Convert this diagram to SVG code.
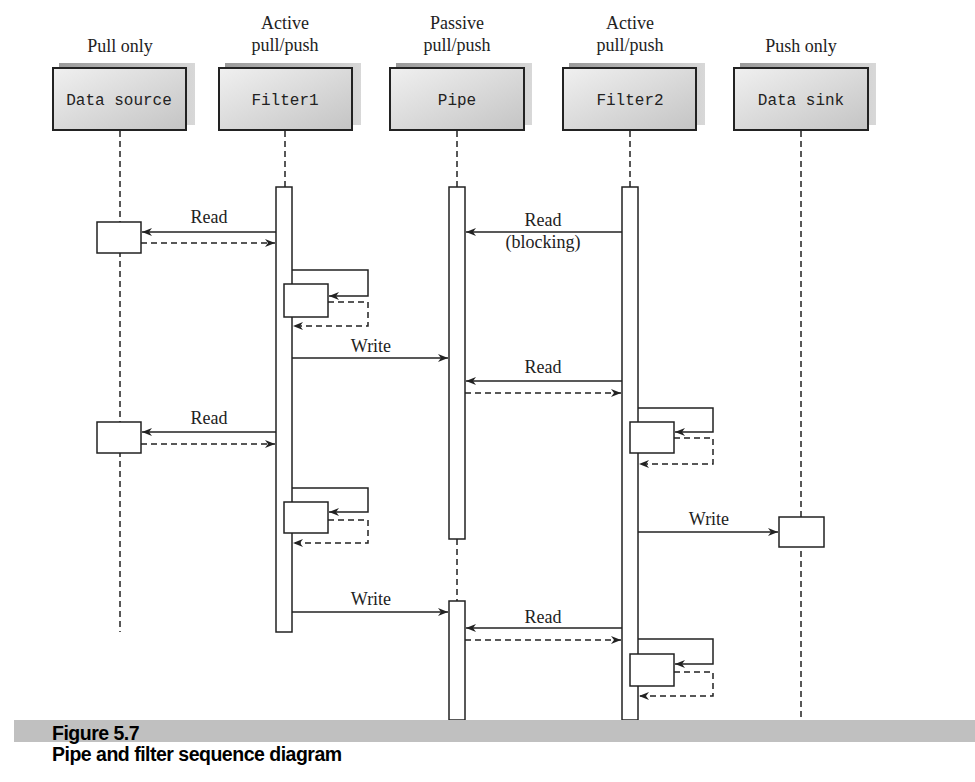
<svg xmlns="http://www.w3.org/2000/svg" width="975" height="782" viewBox="0 0 975 782">
<defs>
<linearGradient id="boxg" x1="0" y1="0" x2="1" y2="1">
<stop offset="0" stop-color="#f0f0f0"/>
<stop offset="1" stop-color="#c4c4c4"/>
</linearGradient>
<linearGradient id="shg" x1="0" y1="0" x2="1" y2="0">
<stop offset="0" stop-color="#9a9a9a"/>
<stop offset="1" stop-color="#d8d8d8"/>
</linearGradient>
<marker id="ah" viewBox="0 0 10 8" refX="10" refY="4" markerWidth="10" markerHeight="8" markerUnits="userSpaceOnUse" orient="auto">
<path d="M0,0 L10,4 L0,8 L3,4 z" fill="#222"/>
</marker>
<style>
.hdr{font-family:"Liberation Serif",serif;font-size:18px;fill:#222;text-anchor:middle}
.lbl{font-family:"Liberation Serif",serif;font-size:18px;fill:#222;text-anchor:middle}
.box{fill:url(#boxg);stroke:#222;stroke-width:2}
.sh{fill:url(#shg)}
.bt{font-family:"Liberation Mono",monospace;font-size:16px;fill:#222;text-anchor:middle}
.life{stroke:#222;stroke-width:1.5;stroke-dasharray:6,4;fill:none}
.act{fill:#fff;stroke:#222;stroke-width:1.5}
.msg{stroke:#222;stroke-width:1.5;fill:none;marker-end:url(#ah)}
.ret{stroke:#222;stroke-width:1.5;fill:none;stroke-dasharray:6,4;marker-end:url(#ah)}
.cap{font-family:"Liberation Sans",sans-serif;font-weight:bold;font-size:19.5px;fill:#000;letter-spacing:-0.5px}
</style>
</defs>
<rect width="975" height="782" fill="#fff"/>

<g id="lifelines">
<line class="life" x1="120" y1="131" x2="120" y2="632"/>
<line class="life" x1="285" y1="131" x2="285" y2="187"/>
<line class="life" x1="457" y1="131" x2="457" y2="187"/>
<line class="life" x1="457" y1="539" x2="457" y2="601"/>
<line class="life" x1="630" y1="131" x2="630" y2="187"/>
<line class="life" x1="801" y1="131" x2="801" y2="720"/>
</g>

<g id="data-source">
<text class="hdr" x="120" y="52">Pull only</text>
<rect class="sh" x="59" y="63" width="136" height="62"/>
<rect class="box" x="53" y="68" width="133" height="62"/>
<text class="bt" x="119" y="105">Data source</text>
<rect class="act" x="97" y="222" width="44" height="31"/>
<rect class="act" x="97" y="422" width="44" height="31"/>
</g>

<g id="filter1">
<text class="hdr" x="285" y="29">Active</text>
<text class="hdr" x="285" y="51">pull/push</text>
<rect class="sh" x="225" y="63" width="136" height="62"/>
<rect class="box" x="219" y="68" width="133" height="62"/>
<text class="bt" x="285" y="105">Filter1</text>
<rect class="act" x="276" y="187" width="16" height="445"/>
<rect class="act" x="284" y="284" width="44" height="33"/>
<rect class="act" x="284" y="502" width="44" height="31"/>
</g>

<g id="pipe">
<text class="hdr" x="457" y="29">Passive</text>
<text class="hdr" x="457" y="51">pull/push</text>
<rect class="sh" x="396" y="63" width="136" height="62"/>
<rect class="box" x="390" y="68" width="134" height="62"/>
<text class="bt" x="457" y="105">Pipe</text>
<rect class="act" x="449" y="187" width="16" height="352"/>
<rect class="act" x="449" y="601" width="16" height="119"/>
</g>

<g id="filter2">
<text class="hdr" x="630" y="29">Active</text>
<text class="hdr" x="630" y="51">pull/push</text>
<rect class="sh" x="569" y="63" width="136" height="62"/>
<rect class="box" x="563" y="68" width="133" height="62"/>
<text class="bt" x="630" y="105">Filter2</text>
<rect class="act" x="622" y="187" width="16" height="533"/>
<rect class="act" x="630" y="422" width="44" height="31"/>
<rect class="act" x="630" y="654" width="44" height="32"/>
</g>

<g id="data-sink">
<text class="hdr" x="801" y="52">Push only</text>
<rect class="sh" x="740" y="63" width="136" height="62"/>
<rect class="box" x="734" y="68" width="134" height="62"/>
<text class="bt" x="801" y="105">Data sink</text>
<rect class="act" x="779" y="517" width="45" height="30"/>
</g>

<g id="connectors">
<line class="msg" x1="276" y1="232" x2="142" y2="232"/>
<text class="lbl" x="209" y="223">Read</text>
<line class="ret" x1="141" y1="243" x2="275" y2="243"/>

<line class="msg" x1="622" y1="232" x2="466" y2="232"/>
<text class="lbl" x="543" y="226">Read</text>
<text class="lbl" x="543" y="248">(blocking)</text>

<polyline class="msg" points="292,270 368,270 368,296 329,296"/>
<polyline class="ret" points="328,302 368,302 368,326 293,326"/>

<line class="msg" x1="292" y1="358" x2="448" y2="358"/>
<text class="lbl" x="371" y="352">Write</text>

<line class="msg" x1="622" y1="381" x2="466" y2="381"/>
<text class="lbl" x="543" y="373">Read</text>
<line class="ret" x1="465" y1="393" x2="621" y2="393"/>

<line class="msg" x1="276" y1="432" x2="142" y2="432"/>
<text class="lbl" x="209" y="424">Read</text>
<line class="ret" x1="141" y1="444" x2="275" y2="444"/>

<polyline class="msg" points="638,408 713,408 713,432 675,432"/>
<polyline class="ret" points="674,438 713,438 713,464 639,464"/>

<polyline class="msg" points="292,488 368,488 368,512 329,512"/>
<polyline class="ret" points="328,520 368,520 368,543 293,543"/>

<line class="msg" x1="638" y1="532" x2="778" y2="532"/>
<text class="lbl" x="709" y="525">Write</text>

<line class="msg" x1="292" y1="612" x2="448" y2="612"/>
<text class="lbl" x="371" y="605">Write</text>

<line class="msg" x1="622" y1="628" x2="466" y2="628"/>
<text class="lbl" x="543" y="623">Read</text>
<line class="ret" x1="465" y1="640" x2="621" y2="640"/>

<polyline class="msg" points="638,639 713,639 713,664 675,664"/>
<polyline class="ret" points="674,672 713,672 713,696 639,696"/>
</g>

<g id="caption">
<rect x="14" y="720" width="961" height="22" fill="#c0c0c0"/>
<text class="cap" x="52" y="740">Figure 5.7</text>
<text class="cap" x="52" y="761">Pipe and filter sequence diagram</text>
</g>
</svg>
